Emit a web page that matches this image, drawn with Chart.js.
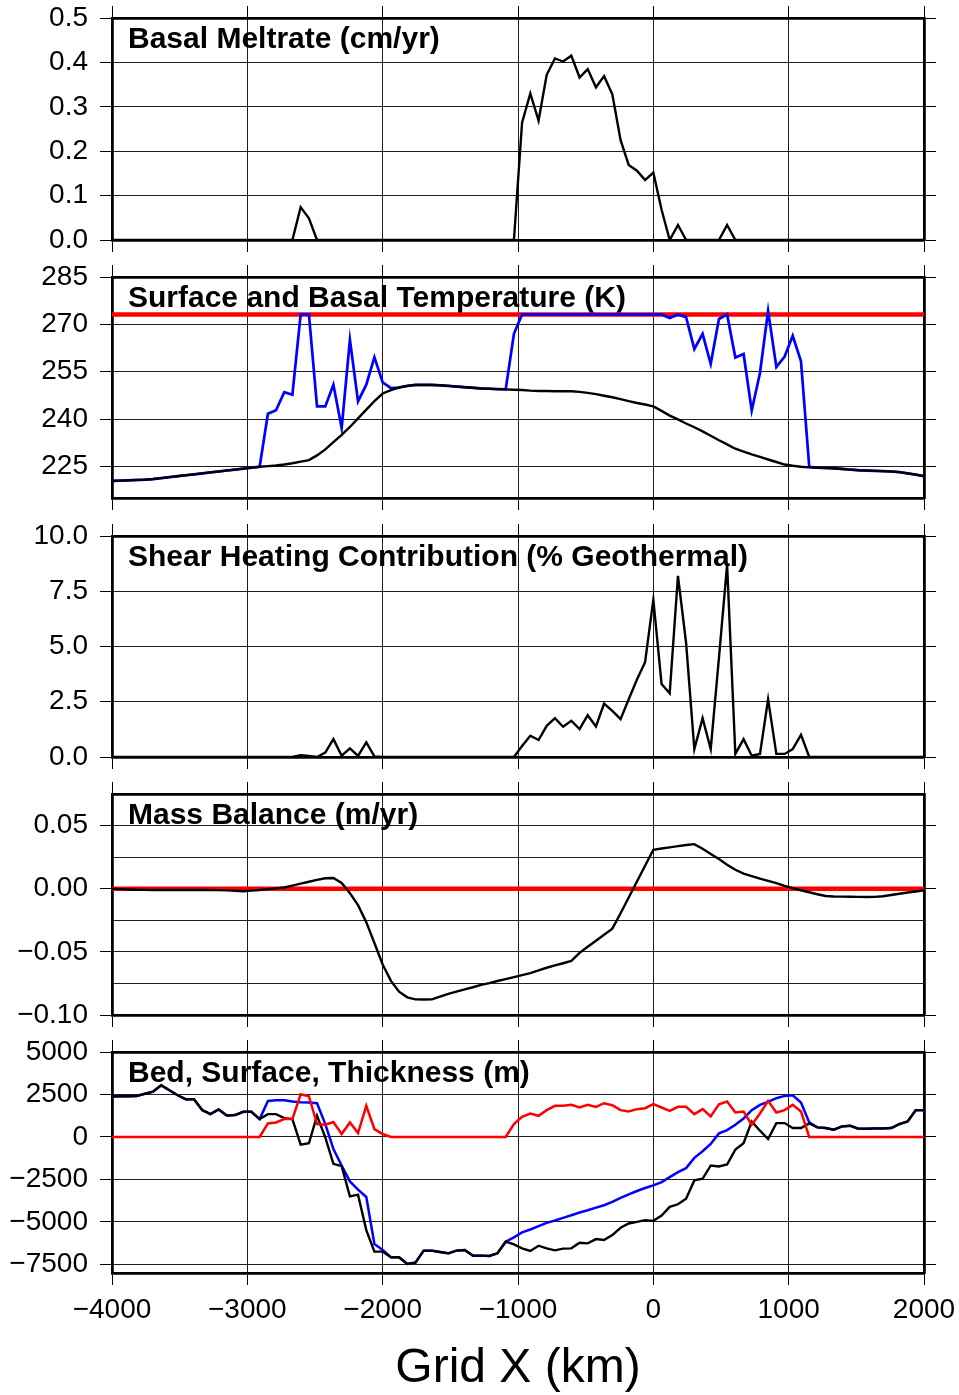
<!DOCTYPE html>
<html>
<head>
<meta charset="utf-8">
<title>Ice sheet transect profiles</title>
<script src="https://cdn.jsdelivr.net/npm/chart.js"></script>
<style>
  html, body { margin: 0; padding: 0; background: #ffffff; }
  #wrap { position: relative; width: 959px; height: 1395px; overflow: hidden; background: #ffffff; }
  canvas { position: absolute; left: 0; }
</style>
</head>
<body>
<div id="wrap">
  <canvas id="pMelt"  width="959" height="258" style="top:0px;width:959px;height:258px"></canvas>
  <canvas id="pTemp"  width="959" height="257" style="top:259px;width:959px;height:257px"></canvas>
  <canvas id="pShear" width="959" height="257" style="top:518px;width:959px;height:257px"></canvas>
  <canvas id="pMass"  width="959" height="257" style="top:776px;width:959px;height:257px"></canvas>
  <canvas id="pElev"  width="959" height="361" style="top:1034px;width:959px;height:361px"></canvas>
</div>
<script>
// ---- model grid (km along the transect) ----
const gridX = [
  -4000,-3939,-3879,-3818,-3758,-3697,-3636,-3576,-3515,-3455,
  -3394,-3333,-3273,-3212,-3152,-3091,-3030,-2970,-2909,-2848,
  -2788,-2727,-2667,-2606,-2545,-2485,-2424,-2364,-2303,-2242,
  -2182,-2121,-2061,-2000,-1939,-1879,-1818,-1758,-1697,-1636,
  -1576,-1515,-1455,-1394,-1333,-1273,-1212,-1152,-1091,-1030,
  -970,-909,-848,-788,-727,-667,-606,-545,-485,-424,
  -364,-303,-242,-182,-121,-61,0,61,121,182,
  242,303,364,424,485,545,606,667,727,788,
  848,909,970,1030,1091,1152,1212,1273,1333,1394,
  1455,1515,1576,1636,1697,1758,1818,1879,1939,2000
];

// ---- tick values ----
const xTicks = [-4000, -3000, -2000, -1000, 0, 1000, 2000];
const meltTicks = [0, 0.1, 0.2, 0.3, 0.4, 0.5];
const tempTicks = [225, 240, 255, 270, 285];
const shearTicks = [0, 2.5, 5, 7.5, 10];
const massTicks = [-0.1, -0.075, -0.05, -0.025, 0, 0.025, 0.05, 0.075];
const massLabelled = [-0.1, -0.05, 0, 0.05];
const elevTicks = [-7500, -5000, -2500, 0, 2500, 5000];

// ---- series ----
const meltRate = [
  0,0,0,0,0,0,0,0,0,0,
  0,0,0,0,0,0,0,0,0,0,
  0,0,0,0.074,0.049,0,0,0,0,0,
  0,0,0,0,0,0,0,0,0,0,
  0,0,0,0,0,0,0,0,0,0,
  0.264,0.330,0.269,0.372,0.409,0.402,0.415,0.366,0.385,0.344,
  0.369,0.328,0.225,0.169,0.156,0.135,0.152,0.068,0,0.034,
  0,0,0,0,0,0.034,0,0,0,0,
  0,0,0,0,0,0,0,0,0,0,
  0,0,0,0,0,0,0,0,0,0
];

const surfaceTemp = [
  220.4,220.5,220.6,220.7,220.8,221.0,221.3,221.6,221.9,222.2,
  222.5,222.8,223.1,223.4,223.7,224.0,224.3,224.6,224.9,225.1,
  225.3,225.6,226.0,226.5,227.0,228.5,230.4,232.7,235.0,237.5,
  240.2,243.0,245.7,248.1,249.2,250.0,250.5,250.8,250.8,250.8,
  250.7,250.5,250.3,250.1,249.9,249.7,249.6,249.5,249.4,249.3,
  249.2,249.0,248.9,248.9,248.8,248.8,248.8,248.6,248.3,247.9,
  247.4,246.9,246.3,245.7,245.1,244.6,244.0,242.6,241.1,239.9,
  238.6,237.4,236.1,234.7,233.3,232.0,230.6,229.7,228.8,228.0,
  227.2,226.4,225.6,225.2,224.9,224.7,224.6,224.5,224.4,224.2,
  224.0,223.8,223.7,223.6,223.5,223.4,223.2,222.8,222.4,221.9
];

const basalTemp = [
  220.4,220.5,220.6,220.7,220.8,221.0,221.3,221.6,221.9,222.2,
  222.5,222.8,223.1,223.4,223.7,224.0,224.3,224.6,224.9,241.7,
  242.8,248.5,247.7,273.15,273.15,244.0,244.0,250.9,237.2,265.1,
  245.6,250.9,259.6,251.6,249.8,250.0,250.5,250.8,250.8,250.8,
  250.7,250.5,250.3,250.1,249.9,249.7,249.6,249.5,249.4,267.0,
  273.15,273.15,273.15,273.15,273.15,273.15,273.15,273.15,273.15,273.15,
  273.15,273.15,273.15,273.15,273.15,273.15,273.15,273.15,272.0,273.15,
  272.3,262.2,267.0,257.5,271.7,273.15,259.5,260.6,242.7,254.6,
  274.3,256.5,259.8,266.4,258.3,224.9,224.6,224.5,224.4,224.2,
  224.0,223.8,223.7,223.6,223.5,223.4,223.2,222.8,222.4,221.9
];

const meltingPoint = 273.15;

const shearHeat = [
  0,0,0,0,0,0,0,0,0,0,
  0,0,0,0,0,0,0,0,0,0,
  0,0,0,0.08,0.05,0,0.2,0.81,0.06,0.39,
  0.05,0.66,0.03,0,0,0,0,0,0,0,
  0,0,0,0,0,0,0,0,0,0,
  0.5,0.96,0.77,1.41,1.76,1.37,1.64,1.26,1.89,1.38,
  2.42,2.09,1.71,2.61,3.51,4.29,7.12,3.30,2.88,8.2,
  5.17,0.36,1.76,0.36,4.5,8.7,0.14,0.81,0.06,0.14,
  2.61,0.14,0.14,0.36,1.0,0,0,0,0,0,
  0,0,0,0,0,0,0,0,0,0
];

const massBalance = [
  0,-0.0003,-0.0006,-0.0008,-0.0009,-0.001,-0.001,-0.001,-0.001,-0.001,
  -0.001,-0.001,-0.001,-0.0011,-0.0013,-0.0016,-0.002,-0.0015,-0.001,-0.0003,
  0.0003,0.001,0.0025,0.004,0.0055,0.007,0.0083,0.0085,0.0045,-0.0035,
  -0.013,-0.0265,-0.043,-0.060,-0.073,-0.0815,-0.086,-0.0876,-0.0877,-0.0876,
  -0.0855,-0.0833,-0.0815,-0.0797,-0.078,-0.0762,-0.0747,-0.0731,-0.0716,-0.070,
  -0.0684,-0.0668,-0.0647,-0.0626,-0.0607,-0.059,-0.0572,-0.0508,-0.046,-0.0412,
  -0.0364,-0.0316,-0.0194,-0.0069,0.0057,0.0182,0.0308,0.0318,0.0327,0.0337,
  0.0346,0.0353,0.0316,0.0275,0.0235,0.019,0.015,0.012,0.010,0.008,
  0.0062,0.0044,0.0022,0.0004,-0.0012,-0.0028,-0.0044,-0.0058,-0.0062,-0.0063,
  -0.0064,-0.0065,-0.0066,-0.0065,-0.006,-0.005,-0.004,-0.003,-0.0022,-0.0013
];

const bedElev = [
  2380,2390,2400,2415,2540,2670,3040,2750,2456,2222,
  2222,1579,1345,1620,1269,1287,1482,1482,1053,1345,
  1345,1111,1053,-450,-370,1250,-18,-1579,-1715,-3490,
  -3392,-5478,-6743,-6743,-7076,-7076,-7466,-7388,-6686,-6686,
  -6764,-6842,-6686,-6647,-6978,-6978,-7000,-6842,-6160,-6315,
  -6550,-6706,-6394,-6550,-6667,-6569,-6550,-6218,-6257,-6004,
  -6062,-5770,-5341,-5088,-4990,-4893,-4932,-4620,-4113,-3957,
  -3626,-2554,-2456,-1676,-1735,-1618,-741,-370,916,370,
  -117,819,819,526,526,800,565,526,429,624,
  663,487,487,507,507,526,760,916,1579,1579
];

const surfaceElev = [
  2380,2390,2400,2415,2540,2670,3040,2750,2456,2222,
  2222,1579,1345,1620,1269,1287,1482,1482,1053,2124,
  2163,2163,2085,2046,2027,1988,760,-702,-1676,-2612,
  -3099,-3528,-6296,-6647,-7076,-7076,-7466,-7388,-6686,-6686,
  -6764,-6842,-6686,-6647,-6978,-6978,-7000,-6842,-6160,-5906,
  -5614,-5439,-5244,-5049,-4912,-4756,-4600,-4444,-4308,-4152,
  -4016,-3821,-3587,-3372,-3177,-3002,-2846,-2651,-2359,-2066,
  -1832,-1228,-838,-409,214,409,721,1091,1579,1891,
  2066,2281,2417,2456,2027,858,565,526,429,624,
  663,487,487,507,507,526,760,916,1579,1579
];

const thickness = [
  0,0,0,0,0,0,0,0,0,0,
  0,0,0,0,0,0,0,0,0,800,
  858,1053,1053,2515,2398,760,721,877,175,858,
  234,1832,468,175,0,0,0,0,0,0,
  0,0,0,0,0,0,0,0,0,760,
  1189,1384,1248,1579,1832,1832,1891,1735,1891,1774,
  1988,1871,1579,1501,1637,1696,1930,1735,1540,1774,
  1774,1345,1637,1209,1930,2085,1442,1501,721,1384,
  2124,1442,1579,1891,1501,0,0,0,0,0,
  0,0,0,0,0,0,0,0,0,0
];

// ---- styling ----
const FONT = '"Liberation Sans", Arial, Helvetica, sans-serif';
const GRID = 'rgba(0,0,0,0.88)';
const FRAME = 2.8;

function fmtNum(v, d) {
  const s = Math.abs(v).toFixed(d);
  return (v < -1e-12 ? '\u2212' : '') + s;
}
function pts(values) {
  return gridX.map((x, i) => ({ x: x, y: values[i] }));
}
function flat(value) {
  return [{ x: xTicks[0], y: value }, { x: xTicks[xTicks.length - 1], y: value }];
}
function line(values, color, width, order) {
  return { data: values, borderColor: color, borderWidth: width, order: order,
           pointRadius: 0, fill: false, tension: 0, borderJoinStyle: 'miter' };
}
// fixed axis sizes so every panel frame lands on the same columns/rows
function fixBox(s, w, h) {
  if (w !== null) s.width = w;
  if (h !== null) s.height = h;
  s.paddingTop = 0; s.paddingBottom = 0; s.paddingLeft = 0; s.paddingRight = 0;
}

// panel heading, painted before the grid so the grid sits on top of it
const panelTitle = {
  id: 'panelTitle',
  beforeDraw(chart, args, opts) {
    const { ctx, chartArea } = chart;
    ctx.save();
    ctx.fillStyle = '#000';
    ctx.font = 'bold 30px ' + FONT;
    ctx.textAlign = 'left';
    ctx.textBaseline = 'alphabetic';
    ctx.fillText(opts.text, chartArea.left + 16, chartArea.top + 30);
    ctx.restore();
  }
};

function xScales(showLabels, bottomH) {
  const common = {
    type: 'linear', min: xTicks[0], max: xTicks[xTicks.length - 1],
    afterBuildTicks: s => { s.ticks = xTicks.map(v => ({ value: v })); }
  };
  return {
    x: Object.assign({}, common, {
      position: 'bottom',
      grid: { color: GRID, lineWidth: 1, tickLength: 12, tickColor: '#000', tickWidth: 1 },
      border: { display: true, color: '#000', width: FRAME },
      ticks: { display: showLabels, color: '#000', font: { family: FONT, size: 28, lineHeight: 1.2 },
               padding: 8, maxRotation: 0, autoSkip: false, callback: v => fmtNum(v, 0) },
      title: showLabels
        ? { display: true, text: 'Grid X (km)', color: '#000',
            font: { family: FONT, size: 48, lineHeight: 1.2 }, padding: { top: 0, bottom: -3 } }
        : { display: false },
      afterFit: s => fixBox(s, null, bottomH)
    }),
    xTop: Object.assign({}, common, {
      position: 'top',
      grid: { drawOnChartArea: false, color: GRID, tickLength: 12, tickColor: '#000', tickWidth: 1 },
      border: { display: true, color: '#000', width: FRAME },
      ticks: { display: false },
      afterFit: s => fixBox(s, null, 18)
    })
  };
}

function yScales(min, max, ticks, label, isMajor) {
  const tickCol = ctx => (isMajor && ctx.tick && !isMajor(ctx.tick.value)) ? 'rgba(0,0,0,0)' : '#000';
  const common = {
    type: 'linear', min: min, max: max,
    afterBuildTicks: s => { s.ticks = ticks.map(v => ({ value: v })); }
  };
  return {
    y: Object.assign({}, common, {
      position: 'left',
      grid: { color: GRID, lineWidth: 1, tickLength: 12, tickColor: tickCol, tickWidth: 1 },
      border: { display: true, color: '#000', width: FRAME },
      ticks: { color: '#000', font: { family: FONT, size: 28, lineHeight: 1.0 }, padding: 12,
               autoSkip: false, callback: v => label(v) },
      afterFit: s => fixBox(s, 112, null)
    }),
    yRight: Object.assign({}, common, {
      position: 'right',
      grid: { drawOnChartArea: false, color: GRID, tickLength: 12, tickColor: tickCol, tickWidth: 1 },
      border: { display: true, color: '#000', width: FRAME },
      ticks: { display: false },
      afterFit: s => fixBox(s, 35, null)
    })
  };
}

function panel(id, title, datasets, yCfg, showX, bottomH) {
  const scales = Object.assign({}, xScales(showX, bottomH), yCfg);
  return new Chart(document.getElementById(id), {
    type: 'line',
    data: { datasets: datasets },
    options: {
      responsive: false, animation: false, devicePixelRatio: 1,
      layout: { padding: 0 },
      events: [],
      plugins: { legend: { display: false }, tooltip: { enabled: false }, panelTitle: { text: title } },
      scales: scales
    },
    plugins: [panelTitle]
  });
}

// Basal melt rate
panel('pMelt', 'Basal Meltrate (cm/yr)',
  [ line(pts(meltRate), '#000000', 2.4, 1) ],
  yScales(0, 0.5, meltTicks, v => fmtNum(v, 1)), false, 18);

// Surface / basal temperature with the pressure melting point
panel('pTemp', 'Surface and Basal Temperature (K)',
  [ line(pts(surfaceTemp), '#000000', 2.4, 1),
    line(pts(basalTemp), '#0000ff', 2.7, 2),
    line(flat(meltingPoint), '#ff0000', 4.5, 3) ],
  yScales(215, 285, tempTicks, v => fmtNum(v, 0)), false, 18);

// Shear heating share of geothermal flux
panel('pShear', 'Shear Heating Contribution (% Geothermal)',
  [ line(pts(shearHeat), '#000000', 2.4, 1) ],
  yScales(0, 10, shearTicks, v => fmtNum(v, 1)), false, 18);

// Surface mass balance
const isMassMajor = v => massLabelled.some(m => Math.abs(m - v) < 1e-9);
panel('pMass', 'Mass Balance (m/yr)',
  [ line(pts(massBalance), '#000000', 2.4, 1),
    line(flat(0), '#ff0000', 4.5, 2) ],
  yScales(-0.1, 0.075, massTicks, v => (isMassMajor(v) ? fmtNum(v, 2) : ''), isMassMajor), false, 18);

// Bed, surface elevation and ice thickness
panel('pElev', 'Bed, Surface, Thickness (m)',
  [ line(pts(thickness), '#ff0000', 2.5, 1),
    line(pts(bedElev), '#000000', 2.4, 2),
    line(pts(surfaceElev), '#0000ff', 2.5, 3) ],
  yScales(-8000, 5000, elevTicks, v => fmtNum(v, 0)), true, 122);
</script>
</body>
</html>
